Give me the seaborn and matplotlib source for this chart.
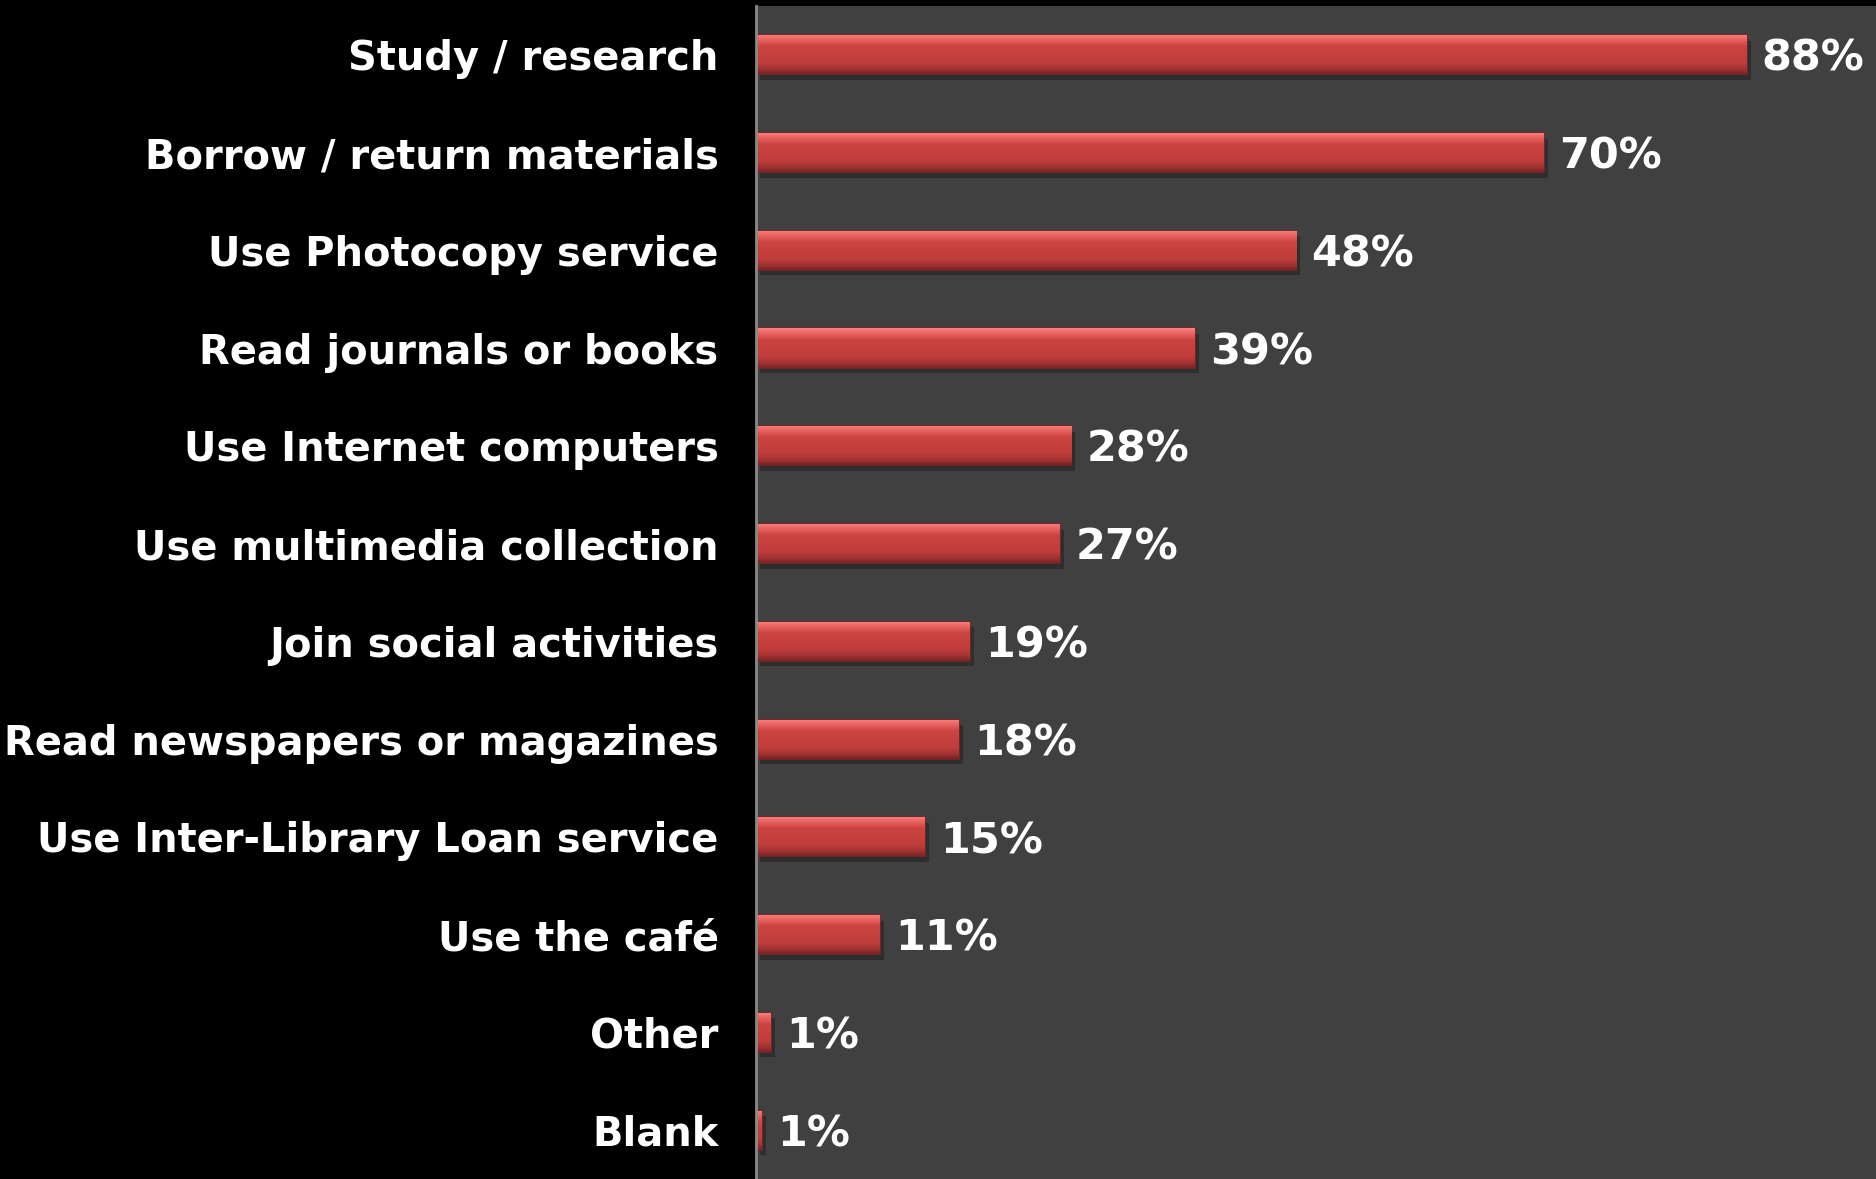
import numpy as np
import pandas as pd
import seaborn as sns
import matplotlib.pyplot as plt
import matplotlib.patheffects as pe
from matplotlib.colors import LinearSegmentedColormap

# --- data ---
activities = ["Study / research", "Borrow / return materials", "Use Photocopy service",
              "Read journals or books", "Use Internet computers", "Use multimedia collection",
              "Join social activities", "Read newspapers or magazines",
              "Use Inter-Library Loan service", "Use the café", "Other", "Blank"]
percent = [88, 70, 48, 39, 28, 27, 19, 18, 15, 11, 1.3, 0.5]
value_labels = ["88%", "70%", "48%", "39%", "28%", "27%", "19%", "18%", "15%", "11%", "1%", "1%"]

df = pd.DataFrame({"activity": activities, "percent": percent})

sns.set_style("dark")
plt.rcParams['font.family'] = ['DejaVu Sans']

fig = plt.figure(figsize=(18.76, 11.79), dpi=100, facecolor='black')
ax = fig.add_axes([0.403, 0.0, 0.597, 0.995])
ax.set_facecolor('#404040')

sns.barplot(data=df, x="percent", y="activity", color='#C23E3C', width=0.4,
            saturation=1, ax=ax, zorder=3)

# glossy bevel look: vertical gradient clipped to each bar, plus a soft shadow
grad = LinearSegmentedColormap.from_list(
    "bevel", [(0.0, '#F88482'), (0.1, '#EE6866'), (0.3, '#CC4441'),
              (0.72, '#BF3D3B'), (0.88, '#A23332'), (1.0, '#7A2424')])
g = np.linspace(0, 1, 64).reshape(-1, 1)
for p in ax.patches:
    x0, y0 = p.get_x(), p.get_y()
    w, h = p.get_width(), p.get_height()
    p.set_edgecolor('#7A2424')
    p.set_linewidth(1.2)
    p.set_path_effects([pe.SimplePatchShadow(offset=(3, -4), shadow_rgbFace='#222222', alpha=0.6),
                        pe.Normal()])
    im = ax.imshow(g, cmap=grad, aspect='auto', extent=(x0, x0 + w, y0 + h, y0),
                   zorder=4, interpolation='bicubic')
    im.set_clip_path(p)

for p, lab in zip(ax.patches, value_labels):
    ax.annotate(lab, (p.get_width(), p.get_y() + p.get_height() / 2),
                xytext=(11, -3), textcoords='offset points', va='center', ha='left',
                color='white', fontsize=31, fontweight='bold', zorder=5)

ax.set_xlim(0, 99.5)
ax.set_ylim(len(activities) - 0.5, -0.5)
ax.set_xlabel("")
ax.set_ylabel("")
ax.set_xticks([])
ax.grid(False)
ax.tick_params(axis='y', length=0, pad=27, labelsize=28.8, labelcolor='white')
for t in ax.get_yticklabels():
    t.set_fontweight('bold')

for s in ['top', 'right', 'bottom']:
    ax.spines[s].set_visible(False)
ax.spines['left'].set_visible(True)
ax.spines['left'].set_color('#8A8A8A')
ax.spines['left'].set_linewidth(2)
ax.spines['left'].set_zorder(6)

fig.savefig("out.png", dpi=100, facecolor='black')
